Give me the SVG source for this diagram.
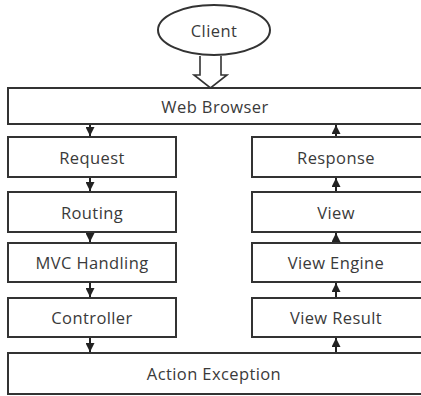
<svg xmlns="http://www.w3.org/2000/svg" width="421" height="396" viewBox="0 0 421 396">
<style>
.box{fill:#fff;stroke:#333;stroke-width:2}
.t{font-family:"Open Sans","Liberation Sans",sans-serif;font-size:16.5px;letter-spacing:0.4px;fill:#3a3a3a;text-anchor:middle;dominant-baseline:central}
.c{stroke:#222;stroke-width:2;fill:none}
</style>
<defs>
<marker id="ah" viewBox="0 0 10 10" refX="10" refY="5" markerWidth="4.5" markerHeight="4.5" orient="auto" markerUnits="strokeWidth">
<path d="M0,0 L10,5 L0,10 Z" fill="#222"/>
</marker>
</defs>
<rect width="421" height="396" fill="#fff"/>
<g id="client">
<ellipse cx="214" cy="30" rx="56" ry="25" class="box"/>
<text x="214" y="30" class="t">Client</text>
</g>
<g id="web-browser">
<rect x="8" y="88" width="414" height="36" class="box"/>
<text x="215" y="106" class="t">Web Browser</text>
</g>
<g id="request">
<rect x="8" y="137" width="168" height="40" class="box"/>
<text x="92" y="157" class="t">Request</text>
</g>
<g id="routing">
<rect x="8" y="192" width="168" height="40" class="box"/>
<text x="92" y="212" class="t">Routing</text>
</g>
<g id="mvc-handling">
<rect x="8" y="243" width="168" height="39" class="box"/>
<text x="92" y="262.5" class="t">MVC Handling</text>
</g>
<g id="controller">
<rect x="8" y="298" width="168" height="39" class="box"/>
<text x="92" y="317.5" class="t">Controller</text>
</g>
<g id="response">
<rect x="252" y="137" width="170" height="40" class="box"/>
<text x="336" y="157" class="t">Response</text>
</g>
<g id="view">
<rect x="252" y="192" width="170" height="40" class="box"/>
<text x="336" y="212" class="t">View</text>
</g>
<g id="view-engine">
<rect x="252" y="243" width="170" height="39" class="box"/>
<text x="336" y="262.5" class="t">View Engine</text>
</g>
<g id="view-result">
<rect x="252" y="298" width="170" height="39" class="box"/>
<text x="336" y="317.5" class="t">View Result</text>
</g>
<g id="action-exception">
<rect x="8" y="353" width="414" height="41" class="box"/>
<text x="214" y="373.5" class="t">Action Exception</text>
</g>
<g id="connectors">
<path d="M200,56 L200,75 L194,75 L210.5,88 L227,75 L221,75 L221,56" fill="#fff" stroke="#333" stroke-width="1.6"/>
<path d="M90,125 L90,136" class="c" marker-end="url(#ah)"/>
<path d="M90,178 L90,191" class="c" marker-end="url(#ah)"/>
<path d="M90,233 L90,242" class="c" marker-end="url(#ah)"/>
<path d="M90,283 L90,297" class="c" marker-end="url(#ah)"/>
<path d="M90,338 L90,352" class="c" marker-end="url(#ah)"/>
<path d="M336,352 L336,338" class="c" marker-end="url(#ah)"/>
<path d="M336,297 L336,283" class="c" marker-end="url(#ah)"/>
<path d="M336,242 L336,233" class="c" marker-end="url(#ah)"/>
<path d="M336,191 L336,178" class="c" marker-end="url(#ah)"/>
<path d="M336,136 L336,125" class="c" marker-end="url(#ah)"/>
</g>
</svg>
